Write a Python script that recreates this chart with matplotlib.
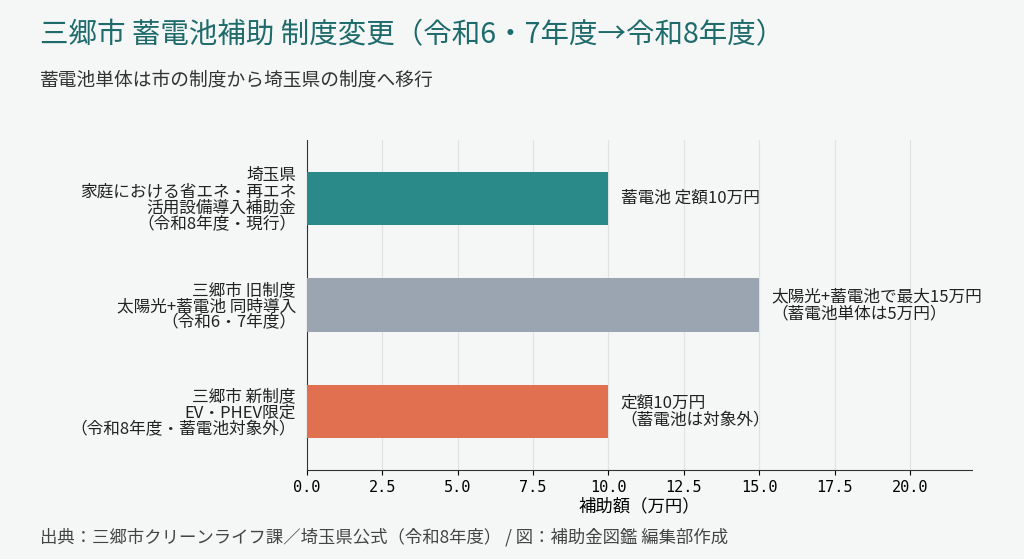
import matplotlib
matplotlib.use("Agg")
import matplotlib.pyplot as plt

plt.rcParams['font.family'] = ['Noto Sans CJK JP', 'DejaVu Sans']

categories = ["埼玉県\n家庭における省エネ・再エネ\n活用設備導入補助金\n（令和8年度・現行）",
              "三郷市 旧制度\n太陽光+蓄電池 同時導入\n（令和6・7年度）",
              "三郷市 新制度\nEV・PHEV限定\n（令和8年度・蓄電池対象外）"]
values = [10, 15, 10]
annotations = ["蓄電池 定額10万円", "太陽光+蓄電池で最大15万円\n（蓄電池単体は5万円）", "定額10万円\n（蓄電池は対象外）"]
colors = ["#2a8a8a", "#9aa5b1", "#e07050"]
xticks = [0, 2.5, 5, 7.5, 10, 12.5, 15, 17.5, 20]

bg = "#f5f7f7"
fig = plt.figure(figsize=(10.24, 5.59), dpi=100, facecolor=bg)
ax = fig.add_axes([307/1024, 1-470/559, (972-307)/1024, (470-140)/559], facecolor=bg)
ypos = [0, 1, 2]
ax.barh(ypos, values, height=0.5, color=colors, zorder=3)
for y, v, t in zip(ypos, values, annotations):
    ax.text(v + 0.4, y, t, va='center', ha='left', fontsize=12, color='#222222', linespacing=1.0)
ax.set_yticks(ypos)
ax.set_yticklabels(categories, fontsize=12, color='#222222', linespacing=0.95)
ax.set_ylim(2.55, -0.55)
ax.set_xlim(0, 22.06)
ax.set_xticks(xticks)
ax.set_xticklabels([f"{x:.1f}" for x in xticks], family='DejaVu Sans Mono', fontsize=11)
ax.tick_params(axis='y', length=0, pad=8)
ax.grid(axis='x', color='#e0e3e3', lw=0.8, zorder=0)
for s in ['top', 'right']:
    ax.spines[s].set_visible(False)
ax.spines['left'].set_color('#333333')
ax.spines['bottom'].set_color('#333333')
ax.set_xlabel("補助額（万円）", fontsize=12.5, labelpad=2)

fig.text(40/1024, 1-35/559, "三郷市 蓄電池補助 制度変更（令和6・7年度→令和8年度）", fontsize=20.5, color='#1f6b6b', va='center')
fig.text(40/1024, 1-80/559, "蓄電池単体は市の制度から埼玉県の制度へ移行", fontsize=13.5, color='#333333', va='center')
fig.text(40/1024, 1-537/559, "出典：三郷市クリーンライフ課／埼玉県公式（令和8年度） / 図：補助金図鑑 編集部作成", fontsize=12.5, color='#444444', va='center')
fig.savefig("out.png", dpi=100, facecolor=bg)
